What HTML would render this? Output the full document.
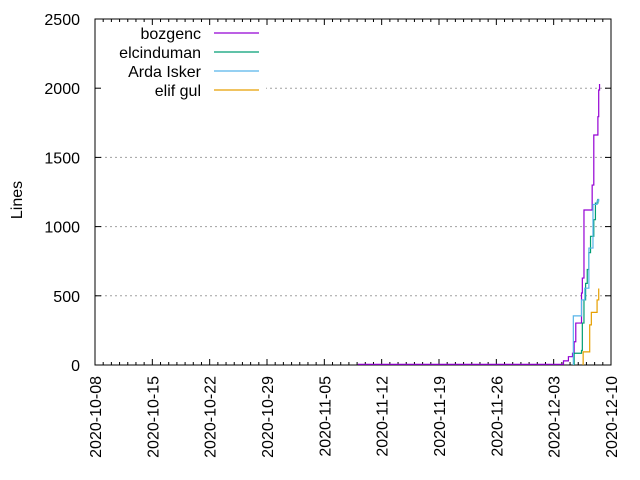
<!DOCTYPE html>
<html><head><meta charset="utf-8"><style>
html,body{margin:0;padding:0;background:#fff;}
svg{display:block;font-family:"Liberation Sans",sans-serif;font-size:16px;}
</style></head><body>
<svg id="chart" width="640" height="480">
<g id="grid"></g>
<g id="axes"></g>
<g id="series"></g>
<g id="legend"></g>
<text x="22" y="200" text-anchor="middle" transform="rotate(-90 22 200)">Lines</text>
</svg>
<script>
const yTicks = [0, 500, 1000, 1500, 2000, 2500];
const xTickLabels = ["2020-10-08","2020-10-15","2020-10-22","2020-10-29","2020-11-05","2020-11-12","2020-11-19","2020-11-26","2020-12-03","2020-12-10"];
const seriesNames = ["bozgenc","elcinduman","Arda Isker","elif gul"];
const seriesColors = ["#9400d3","#009e73","#56b4e9","#e69f00"];
const bozgencDays = [32.1,56.6,57.2,57.8,58.3,58.5,58.7,59.4,59.5,59.7,60.7,60.9,61.4,61.5,61.6];
const bozgencVals = [5,5,30,60,85,168,303,520,628,1120,1300,1662,1794,1987,2030];
const elcinDays = [58.5,58.5,59.4,59.5,59.7,59.9,60.1,60.3,60.5,60.9,61.1,61.4];
const elcinVals = [0,85,105,303,470,590,690,812,930,1050,1170,1200];
const ardaDays = [58.4,58.4,59.4,59.8,60.3,60.8,61.3,61.5];
const ardaVals = [0,355,470,555,845,1160,1185,1200];
const elifDays = [59.6,59.6,60.4,60.6,61.3,61.5];
const elifVals = [0,95,290,380,470,553];

const X0=95, X1=611, Y0=365, Y1=19, DAYS=63, YMAX=2500;
const xs = d => X0 + d*(X1-X0)/DAYS;
const ys = v => Y0 - v*(Y0-Y1)/YMAX;
const NS="http://www.w3.org/2000/svg";
function mk(tag, attrs, parent){const e=document.createElementNS(NS,tag);for(const k in attrs)e.setAttribute(k,attrs[k]);parent.appendChild(e);return e;}
const grid=document.getElementById('grid'), axes=document.getElementById('axes'), ser=document.getElementById('series'), leg=document.getElementById('legend');

yTicks.forEach(v=>{
  if(v>0 && v<YMAX){
    const g=mk('line',{x1:X0,x2:X1,y1:ys(v),y2:ys(v),stroke:'#a0a0a0','stroke-dasharray':'2,3'},grid);
    
    
  }
  const t=mk('line',{x1:X0,x2:X0+6,y1:ys(v),y2:ys(v),stroke:'#000'},axes);
  
  
  const t2=mk('line',{x1:X1-6,x2:X1,y1:ys(v),y2:ys(v),stroke:'#000'},axes);
  
  
  const l=mk('text',{x:X0-15,y:ys(v)+6,'text-anchor':'end'},axes);
  l.textContent=v;
  
  
});
const lb=mk('rect',{x:X0+1,y:Y1+1,width:170,height:80,fill:'#fff'},grid);



for(let d=0; d<=DAYS; d++){
  const major = d%7===0;
  const len = major?6:3;
  const a=mk('line',{x1:xs(d),x2:xs(d),y1:Y0,y2:Y0-len,stroke:'#000'},axes);
  
  
  const b=mk('line',{x1:xs(d),x2:xs(d),y1:Y1,y2:Y1+len,stroke:'#000'},axes);
  
  
}
xTickLabels.forEach((s,i)=>{
  const x=xs(i*7)+6, y=Y0+11;
  const t=mk('text',{x:x,y:y,'text-anchor':'end',transform:`rotate(-90 ${x} ${y})`},axes);
  t.textContent=s;
  
  
});
const border=mk('rect',{x:X0,y:Y1,width:X1-X0,height:Y0-Y1,fill:'none',stroke:'#000'},axes);



function stepPath(days, vals){
  let p=`M${xs(days[0])},${ys(vals[0])}`;
  for(let i=1;i<days.length;i++){p+=` H${xs(days[i])} V${ys(vals[i])}`;}
  return p;
}
const all=[[bozgencDays,bozgencVals],[elcinDays,elcinVals],[ardaDays,ardaVals],[elifDays,elifVals]];
all.forEach((s,i)=>{
  const p=mk('path',{d:stepPath(s[0],s[1]),fill:'none',stroke:seriesColors[i],'stroke-width':1.2},ser);
  
  
});
seriesNames.forEach((n,i)=>{
  const y=33+i*19;
  const t=mk('text',{x:201,y:y+6,'text-anchor':'end'},leg);
  t.textContent=n;
  
  
  const l=mk('line',{x1:214,x2:259,y1:y,y2:y,stroke:seriesColors[i],'stroke-width':1.2},leg);
  
  
});
</script>
</body></html>
